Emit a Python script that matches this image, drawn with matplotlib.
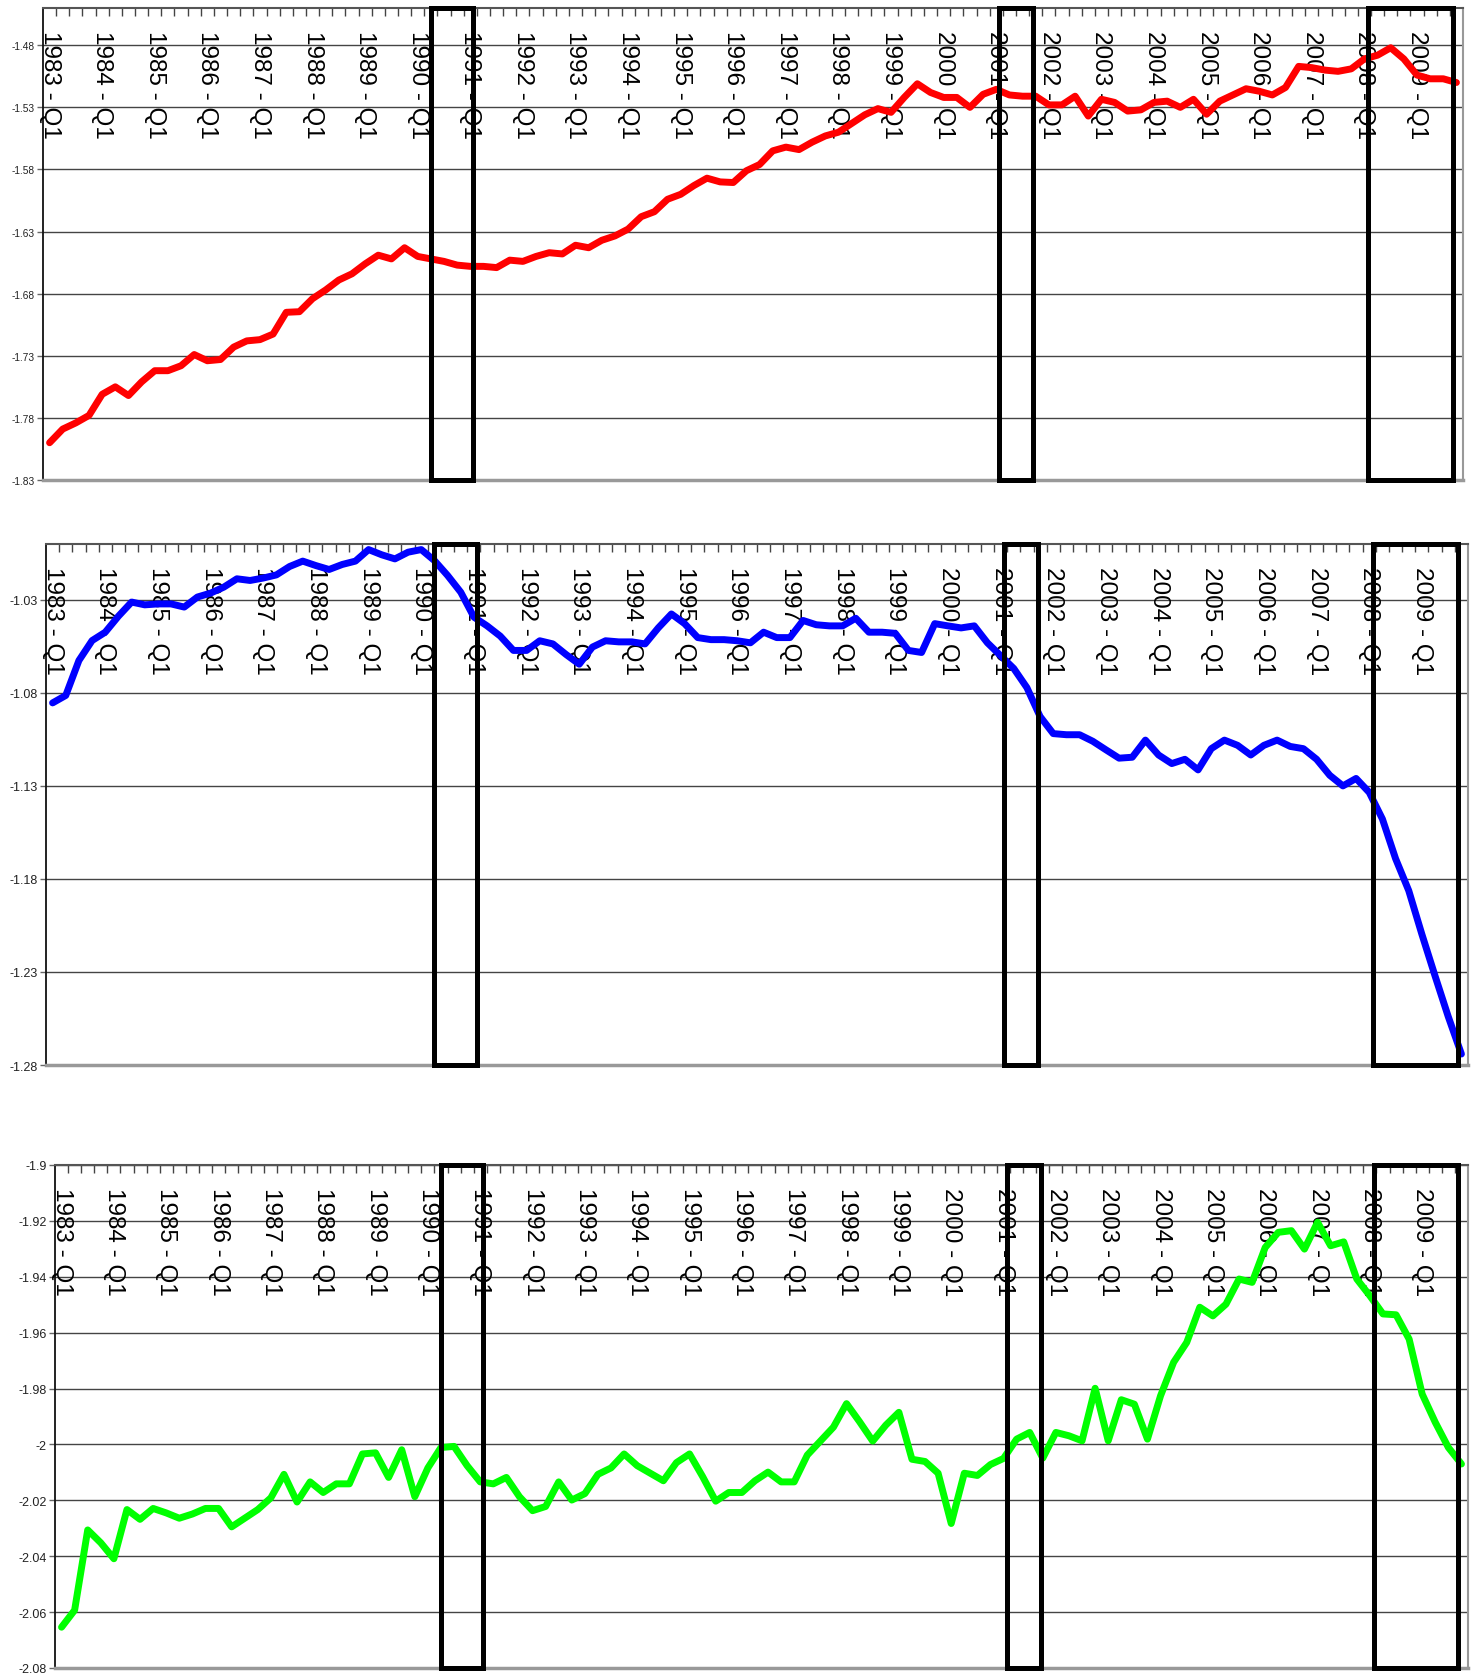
import numpy as np
import matplotlib
matplotlib.use("Agg")
import matplotlib.pyplot as plt
from matplotlib.patches import Rectangle

# ---------------- data ----------------
years = list(range(1983, 2010))
quarters = [f"{y} - Q{q}" for y in years for q in range(1, 5)]   # 108 categories
year_labels = [f"{y} - Q1" for y in years]

red_series = [
    -1.800, -1.789, -1.784, -1.778, -1.761, -1.755, -1.762, -1.751, -1.742, -1.742,
    -1.738, -1.729, -1.734, -1.733, -1.723, -1.718, -1.717, -1.7125, -1.695, -1.6945,
    -1.684, -1.677, -1.669, -1.664, -1.656, -1.649, -1.652, -1.643, -1.650, -1.652,
    -1.654, -1.657, -1.658, -1.658, -1.659, -1.653, -1.654, -1.650, -1.647, -1.648,
    -1.641, -1.643, -1.637, -1.6335, -1.628, -1.618, -1.614, -1.604, -1.600, -1.593,
    -1.587, -1.590, -1.5905, -1.581, -1.576, -1.565, -1.562, -1.564, -1.558, -1.553,
    -1.550, -1.543, -1.536, -1.531, -1.534, -1.522, -1.511, -1.518, -1.522, -1.522,
    -1.530, -1.5195, -1.5155, -1.520, -1.521, -1.521, -1.528, -1.528, -1.521, -1.537,
    -1.5235, -1.526, -1.533, -1.532, -1.526, -1.525, -1.530, -1.5235, -1.5355, -1.525,
    -1.520, -1.515, -1.517, -1.520, -1.514, -1.497, -1.498, -1.500, -1.501, -1.499,
    -1.491, -1.488, -1.482, -1.491, -1.504, -1.507, -1.507, -1.510,
]

blue_series = [
    -1.0854, -1.0814, -1.0626, -1.0519, -1.0474, -1.0388, -1.0312, -1.0327, -1.0322, -1.0322,
    -1.0339, -1.0285, -1.0264, -1.0232, -1.0187, -1.0196, -1.0183, -1.0166, -1.0121, -1.0092,
    -1.0116, -1.0137, -1.0110, -1.0092, -1.0030, -1.0058, -1.0080, -1.0044, -1.0030, -1.0089,
    -1.0169, -1.0259, -1.0393, -1.0440, -1.0495, -1.0572, -1.0572, -1.0520, -1.0537, -1.0594,
    -1.0646, -1.0554, -1.0520, -1.0526, -1.0526, -1.0537, -1.0451, -1.0376, -1.0428, -1.0503,
    -1.0514, -1.0514, -1.0520, -1.0531, -1.0474, -1.0503, -1.0503, -1.0411, -1.0434, -1.0440,
    -1.0440, -1.0399, -1.0474, -1.0474, -1.0480, -1.0572, -1.0583, -1.0428, -1.0440, -1.0451,
    -1.0440, -1.0531, -1.0600, -1.0669, -1.0772, -1.0927, -1.1019, -1.1025, -1.1025, -1.1060,
    -1.1106, -1.1151, -1.1146, -1.1054, -1.1134, -1.1180, -1.1157, -1.1214, -1.1100, -1.1054,
    -1.1082, -1.1134, -1.1082, -1.1054, -1.1088, -1.1100, -1.1157, -1.1243, -1.1300, -1.1260,
    -1.1335, -1.1478, -1.1691, -1.1863, -1.2098, -1.2322, -1.2540, -1.2741,
]

green_series = [
    -2.0654, -2.0593, -2.0306, -2.0352, -2.0409, -2.0233, -2.0268, -2.0229, -2.0245, -2.0264,
    -2.0249, -2.0229, -2.0229, -2.0295, -2.0264, -2.0233, -2.0191, -2.0107, -2.0206, -2.0134,
    -2.0172, -2.0141, -2.0141, -2.0034, -2.0030, -2.0118, -2.0019, -2.0187, -2.0084, -2.0011,
    -2.0007, -2.0076, -2.0134, -2.0141, -2.0118, -2.0187, -2.0237, -2.0222, -2.0134, -2.0199,
    -2.0176, -2.0107, -2.0084, -2.0034, -2.0076, -2.0103, -2.0130, -2.0065, -2.0034, -2.0115,
    -2.0203, -2.0172, -2.0172, -2.0130, -2.0099, -2.0134, -2.0134, -2.0038, -1.9988, -1.9938,
    -1.9854, -1.9919, -1.9988, -1.9931, -1.9885, -2.0053, -2.0061, -2.0103, -2.0283, -2.0103,
    -2.0111, -2.0072, -2.0050, -1.9981, -1.9957, -2.0049, -1.9957, -1.9969, -1.9987, -1.9799,
    -1.9987, -1.9840, -1.9856, -1.9981, -1.9826, -1.9706, -1.9635, -1.9509, -1.9540, -1.9498,
    -1.9408, -1.9420, -1.9295, -1.9241, -1.9235, -1.9301, -1.9205, -1.9289, -1.9275, -1.9408,
    -1.9468, -1.9533, -1.9536, -1.9623, -1.9820, -1.9921, -2.0011, -2.0070,
]

# highlighted (recession) periods
recessions = [("1990 - Q2", "1991 - Q1"), ("2001 - Q1", "2001 - Q4"), ("2008 - Q1", "2009 - Q4")]

# axis ranges / tick steps per panel
y_ranges = [(-1.83, -1.45), (-1.28, -1.00), (-2.08, -1.90)]
y_steps = [0.05, 0.05, 0.02]

# ---------------- layout / style ----------------
W, H = 1478, 1674
fig = plt.figure(figsize=(W / 100, H / 100), dpi=100)
fig.patch.set_facecolor("white")

# pixel boxes (left, top, right, bottom)
panel_px = [(43, 9, 1463, 481), (46, 545, 1468, 1066), (55, 1166, 1468, 1669)]
colors = ["#FF0000", "#0000FF", "#00FF00"]
series_list = [red_series, blue_series, green_series]
ylabel_sizes = [7.3, 9.0, 9.0]
# small hand-drawn offsets of the highlight boxes (in category units)
box_insets = [(0.0, 0.24), (0.23, -0.17), (0.3, -0.24)]

FONT = ["Liberation Sans", "DejaVu Sans"]
x = np.arange(len(quarters))


def fmt(v):
    return f"{round(v, 2):g}"


for k in range(3):
    l, t, r, b = panel_px[k]
    ax = fig.add_axes([l / W, 1 - b / H, (r - l) / W, (b - t) / H])
    ax.set_facecolor("white")
    y0, y1 = y_ranges[k]
    ax.set_xlim(-0.5, len(quarters) - 0.5)
    ax.set_ylim(y0, y1)

    ticks = np.round(np.arange(y0, y1 + 1e-9, y_steps[k]), 2)
    ax.set_yticks(ticks)
    ax.set_yticklabels([fmt(v) for v in ticks], fontsize=ylabel_sizes[k],
                       family=FONT, color="#222222")
    ax.tick_params(axis="y", direction="out", length=4, width=1, color="#666666", pad=2)
    ax.yaxis.grid(True, color="#444444", linewidth=1.0, zorder=0)
    ax.set_axisbelow(True)

    # category boundary ticks on the top axis
    ax.xaxis.set_ticks_position("top")
    ax.set_xticks(np.arange(0.5, len(quarters) - 1, 1.0))
    ax.tick_params(axis="x", direction="in", length=6, width=1, color="#444444",
                   labeltop=False, labelbottom=False, top=True, bottom=False)

    for side, col, lw in [("left", "#111111", 1.3), ("top", "#555555", 1.5),
                          ("right", "#999999", 1.5), ("bottom", "#999999", 2.5)]:
        ax.spines[side].set_color(col)
        ax.spines[side].set_linewidth(lw)

    # rotated year labels inside the plot, under the top axis
    for lab in year_labels:
        i = quarters.index(lab)
        ax.annotate(lab, xy=(i, 1), xycoords=ax.get_xaxis_transform(),
                    xytext=(0, -22), textcoords="offset pixels",
                    rotation=-90, ha="center", va="top", fontsize=17.5,
                    family=FONT, color="black", zorder=3, annotation_clip=False)

    ax.plot(x, series_list[k], color=colors[k], linewidth=5.0,
            solid_joinstyle="round", solid_capstyle="round", zorder=4)

    for (s, e), (d0, d1) in zip(recessions, box_insets):
        xs, xe = quarters.index(s) + d0, quarters.index(e) + d1
        rect = Rectangle((xs, 0), xe - xs, 1, transform=ax.get_xaxis_transform(),
                         fill=False, edgecolor="black", linewidth=3.6,
                         joinstyle="miter", clip_on=False, zorder=10)
        ax.add_patch(rect)

fig.savefig("out.png", dpi=100, facecolor="white")
